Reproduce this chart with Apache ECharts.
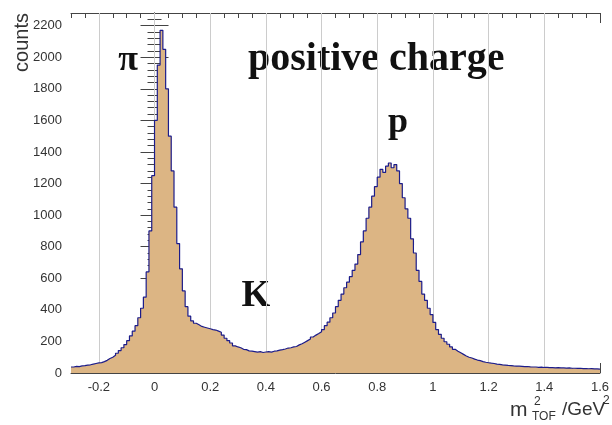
<!DOCTYPE html>
<html>
<head>
<meta charset="utf-8">
<script src="https://cdn.jsdelivr.net/npm/echarts@6/dist/echarts.min.js"></script>
<style>
    html, body { margin: 0; padding: 0; background: #fff; }
    #chartId { width: 612px; height: 425px; }
</style>
</head>
<body>
<div id="chartId"></div>
<script>
// histogram: bins of 0.01 GeV^2 from -0.3 to 1.6
const binStart = -0.3;
const binWidth = 0.01;
const counts = [
    38, 42, 40, 45, 47, 50, 52, 56, 60, 64,
    66, 72, 80, 92, 100, 112, 125, 142, 160, 180,
    205, 235, 265, 300, 350, 410, 480, 640, 900, 1250,
    1600, 1950, 2170, 2050, 1800, 1500, 1280, 1050, 820, 660,
    520, 420, 360, 330, 315, 305, 295, 290, 285, 280,
    275, 272, 265, 258, 240, 220, 205, 190, 172, 165,
    160, 150, 148, 140, 138, 135, 132, 135, 130, 133,
    135, 132, 138, 140, 145, 148, 152, 158, 160, 165,
    168, 178, 185, 195, 205, 215, 228, 240, 250, 262,
    275, 300, 322, 350, 380, 420, 460, 500, 540, 575,
    610, 650, 690, 750, 830, 900, 980, 1050, 1120, 1180,
    1240, 1290, 1270, 1310, 1330, 1300, 1320, 1280, 1200, 1110,
    1040, 980, 850, 760, 650, 580, 500, 460, 410, 370,
    320, 275, 245, 220, 198, 182, 165, 150, 138, 128,
    118, 108, 100, 95, 88, 82, 78, 72, 68, 65,
    62, 60, 56, 55, 52, 50, 48, 47, 45, 44,
    43, 42, 40, 41, 39, 38, 38, 36, 37, 35,
    35, 34, 34, 33, 34, 32, 32, 31, 32, 30,
    30, 29, 30, 28, 28, 27, 28, 26, 26, 25
];
const xMajorTicks = [-0.2, 0, 0.2, 0.4, 0.6, 0.8, 1, 1.2, 1.4, 1.6];
const xMin = -0.3, xMax = 1.6;
const yMax = 2280;

var chart = echarts.init(document.getElementById('chartId'));

let histData = counts.map((c, i) => [binStart + i * binWidth, c]);
histData.push([binStart + counts.length * binWidth, counts[counts.length - 1]]);

const axisCol = '#444';
const serif = '"Liberation Serif", "DejaVu Serif", serif';
const sans = '"Liberation Sans", Arial, sans-serif';

// minor axis (0.05 steps), major axis overlaid with custom ticks
function xAxes(pos, withLabels){
    return [
        {
            type: 'value', position: pos, min: xMin, max: xMax, interval: 0.05,
            axisLine: { show: true, lineStyle: { color: axisCol, width: 1 } },
            axisTick: { show: true, inside: true, length: 5, lineStyle: { color: axisCol } },
            axisLabel: { show: false },
            splitLine: { show: false }
        },
        {
            type: 'value', position: pos, min: xMin, max: xMax,
            axisLine: { show: false },
            axisTick: { show: true, inside: true, length: 10, customValues: xMajorTicks, lineStyle: { color: axisCol } },
            axisLabel: {
                show: withLabels, customValues: xMajorTicks, margin: 8,
                color: '#333', fontSize: 13, fontFamily: sans,
                formatter: v => String(Math.round(v * 10) / 10)
            },
            splitLine: { show: false }
        }
    ];
}

function yAxisCfg(pos, withLabels){
    return {
        type: 'value', position: pos, min: 0, max: yMax, interval: 200,
        axisLine: { show: true, lineStyle: { color: axisCol, width: 1 } },
        axisTick: { show: true, inside: true, length: 14, lineStyle: { color: axisCol } },
        minorTick: { show: true, splitNumber: 5, length: 7, lineStyle: { color: axisCol } },
        axisLabel: {
            show: withLabels, showMaxLabel: false, margin: 9,
            color: '#333', fontSize: 13, fontFamily: sans,
            formatter: v => String(v)
        },
        splitLine: { show: false }
    };
}

var option = {
    animation: false,
    backgroundColor: '#fff',
    grid: { left: 71, right: 8, top: 13, bottom: 52 },
    xAxis: xAxes('bottom', true).concat(xAxes('top', false)),
    yAxis: [yAxisCfg('left', true), yAxisCfg('right', false)],
    series: [
        {
            // vertical grid lines, kept behind the histogram
            type: 'line',
            xAxisIndex: 0,
            yAxisIndex: 0,
            data: [],
            z: 1,
            markLine: {
                silent: true,
                z: 1,
                symbol: 'none',
                label: { show: false },
                lineStyle: { color: '#cccccc', width: 1, type: 'solid' },
                data: xMajorTicks.filter(t => t < xMax).map(t => ({ xAxis: t }))
            }
        },
        {
            type: 'line',
            xAxisIndex: 0,
            yAxisIndex: 0,
            step: 'end',
            symbol: 'none',
            data: histData,
            lineStyle: { color: '#1c1c8a', width: 1.2 },
            areaStyle: { color: '#dcb584', opacity: 1 },
            z: 3
        }
    ],
    graphic: [
        { type: 'text', left: 12, top: 13, rotation: Math.PI / 2, origin: [0, 0],
          style: { text: 'counts', font: '20px ' + sans, fill: '#333' } },
        { type: 'text', x: 128, y: 61, style: { text: 'π', font: 'bold 36px ' + serif, fill: '#111', align: 'center', verticalAlign: 'middle' } },
        { type: 'text', x: 248, y: 60, style: { text: 'positive charge', font: 'bold 40px ' + serif, fill: '#111', align: 'left', verticalAlign: 'middle' } },
        { type: 'text', x: 398, y: 123, style: { text: 'p', font: 'bold 36px ' + serif, fill: '#111', align: 'center', verticalAlign: 'middle' } },
        { type: 'text', x: 256, y: 296, style: { text: 'K', font: 'bold 37px ' + serif, fill: '#111', align: 'center', verticalAlign: 'middle' } },
        { type: 'text', x: 510, y: 410, style: { text: 'm', font: '21px ' + sans, fill: '#333', verticalAlign: 'middle' } },
        { type: 'text', x: 534, y: 402, style: { text: '2', font: '12px ' + sans, fill: '#333', verticalAlign: 'middle' } },
        { type: 'text', x: 532, y: 417, style: { text: 'TOF', font: '12px ' + sans, fill: '#333', verticalAlign: 'middle' } },
        { type: 'text', x: 562, y: 410, style: { text: '/GeV', font: '19px ' + sans, fill: '#333', verticalAlign: 'middle' } },
        { type: 'text', x: 603, y: 401, style: { text: '2', font: '12px ' + sans, fill: '#333', verticalAlign: 'middle' } }
    ]
};
chart.setOption(option);
</script>
</body>
</html>
